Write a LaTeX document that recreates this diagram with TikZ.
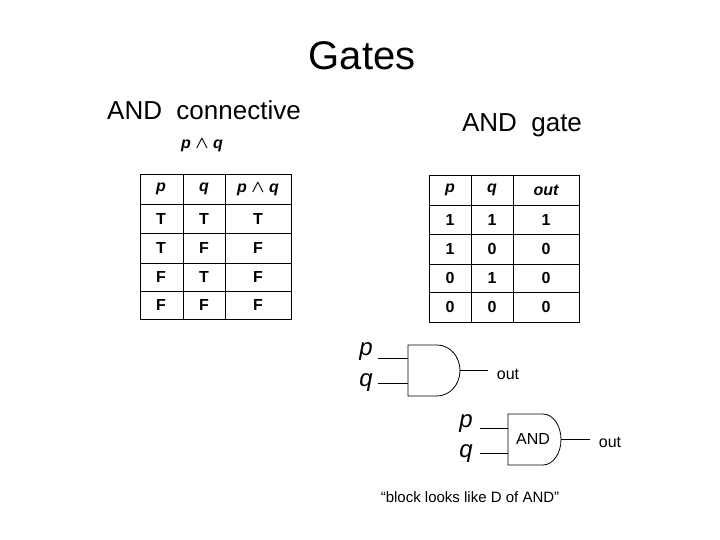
\documentclass[tikz,border=0pt]{standalone}
\usepackage{fontspec}
\setmainfont{Liberation Sans}
\usepackage{amsmath}
\begin{document}
\begin{tikzpicture}[x=1pt,y=-1pt,
  cell/.style={font=\fontsize{16}{16}\selectfont\bfseries},
  hdr/.style={font=\fontsize{16}{16}\selectfont\bfseries\itshape},
  lbl/.style={font=\fontsize{24}{24}\selectfont\itshape},
  wire/.style={line width=0.8pt},
  gate/.style={line width=0.8pt,fill=white}]
\useasboundingbox (0,0) rectangle (720,540);
% titles
\node (title) at (362,56) {\fontsize{40}{40}\selectfont Gates};
\node (conn) at (204,110) {\fontsize{26}{26}\selectfont AND\ \ connective};
\node (gtitle) at (522,125) {\fontsize{26}{26}\selectfont AND\ \ gate};
\node[hdr] (pq) at (202,145) {p $\boldsymbol{\wedge}$ q};
% left truth table
\draw[line width=0.8pt] (140,174) rectangle (291,319);
\foreach \x in {183,225} \draw[line width=0.8pt] (\x,174) -- (\x,319);
\foreach \y in {204,233,263,291} \draw[line width=0.8pt] (140,\y) -- (291,\y);
\node[hdr] (lh1) at (161,189) {p};
\node[hdr] (lh2) at (204,189) {q};
\node[hdr] (lh3) at (258,189) {p $\boldsymbol{\wedge}$ q};
\foreach \a/\b/\c [count=\i] in {T/T/T,T/F/F,F/T/F,F/F/F}{
  \pgfmathsetmacro{\yy}{{219,248,277,305}[\i-1]}
  \node[cell] at (161,\yy) {\a};
  \node[cell] at (204,\yy) {\b};
  \node[cell] at (258,\yy) {\c};
}
% right truth table
\draw[line width=0.8pt] (429,175) rectangle (579,322);
\foreach \x in {471,513} \draw[line width=0.8pt] (\x,175) -- (\x,322);
\foreach \y in {205,234,264,292} \draw[line width=0.8pt] (429,\y) -- (579,\y);
\node[hdr] (rh1) at (450,190) {p};
\node[hdr] (rh2) at (492,190) {q};
\node[hdr] (rh3) at (546,190) {out};
\foreach \a/\b/\c [count=\i] in {1/1/1,1/0/0,0/1/0,0/0/0}{
  \pgfmathsetmacro{\yy}{{220,249,278,307}[\i-1]}
  \node[cell] at (450,\yy) {\a};
  \node[cell] at (492,\yy) {\b};
  \node[cell] at (546,\yy) {\c};
}
% gate 1
\draw[gate] (408,345) -- (437,345) arc[start angle=-90,end angle=90,x radius=23,y radius=25.5] -- (408,396) -- cycle;
\node[lbl] (p1) at (366,352) {p};
\node[lbl] (q1) at (366,383) {q};
\coordinate (a1) at (408,358);
\coordinate (b1) at (408,383);
\coordinate (o1) at (460,370.5);
\node[font=\fontsize{16}{16}\selectfont] (out1) at (508,374) {out};
\draw[wire] (378,358) -- (a1);
\draw[wire] (378,383) -- (b1);
\draw[wire] (o1) -- (488,370.5);
% gate 2
\draw[gate] (508,414) -- (543,414) arc[start angle=-90,end angle=90,x radius=18,y radius=25.5] -- (508,465) -- cycle;
\node[font=\fontsize{16}{16}\selectfont] (andl) at (533,439) {AND};
\node[lbl] (p2) at (466,424) {p};
\node[lbl] (q2) at (466,454) {q};
\draw[wire] (480,428) -- (508,428);
\draw[wire] (480,453) -- (508,453);
\draw[wire] (561,439.5) -- (590,439.5);
\node[font=\fontsize{16}{16}\selectfont] (out2) at (610,442) {out};
\node[font=\fontsize{15}{15}\selectfont] (quote) at (470,497) {“block looks like D of AND”};
\end{tikzpicture}
\end{document}
